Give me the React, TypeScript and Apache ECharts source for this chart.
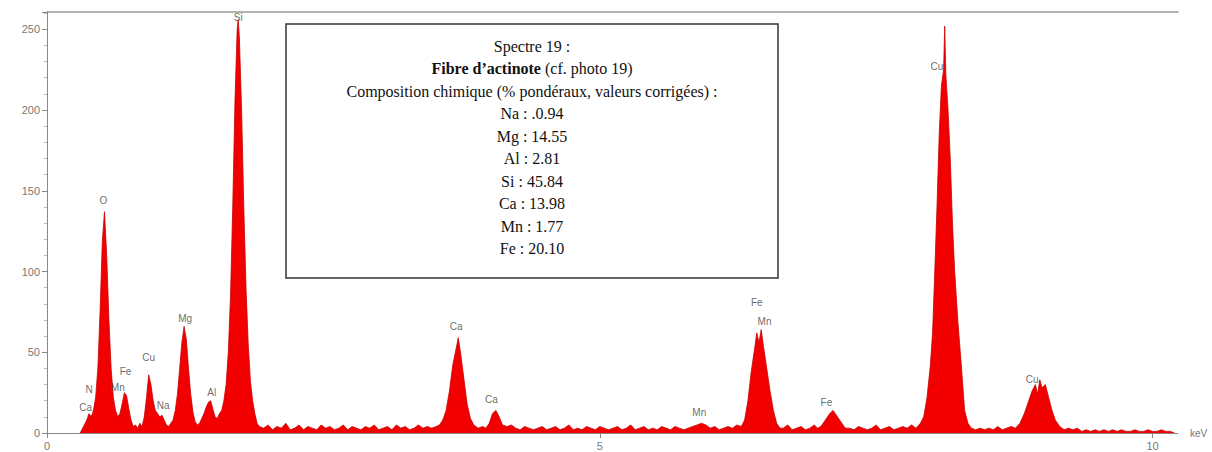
import React, { useEffect, useRef } from "react";
import * as echarts from "echarts";

// Spectrum [keV, counts], by region
const lowEnergy: number[][] = [
  [0.30, 0], [0.33, 4], [0.36, 8], [0.38, 12], [0.40, 10], [0.42, 14], [0.44, 22], [0.46, 40],
  [0.48, 75], [0.50, 118], [0.52, 137], [0.54, 110], [0.56, 70], [0.58, 40], [0.60, 22], [0.62, 14],
  [0.64, 10], [0.66, 12], [0.68, 18], [0.70, 25], [0.72, 23], [0.74, 15], [0.76, 8], [0.78, 4],
  [0.80, 5], [0.82, 3], [0.84, 6], [0.86, 4], [0.88, 10], [0.90, 22], [0.92, 36], [0.94, 30],
  [0.96, 20], [0.98, 14], [1.00, 12], [1.02, 10], [1.04, 11], [1.06, 8], [1.08, 5], [1.10, 4],
  [1.12, 6], [1.14, 8], [1.16, 14], [1.18, 24], [1.20, 40], [1.22, 56], [1.24, 66], [1.26, 58],
  [1.28, 40], [1.30, 24], [1.32, 13], [1.34, 7], [1.36, 5], [1.38, 6], [1.40, 9], [1.42, 12],
  [1.44, 16], [1.46, 19], [1.48, 20], [1.50, 15], [1.52, 10], [1.54, 9], [1.56, 12], [1.58, 14],
  [1.60, 20], [1.62, 30], [1.64, 50], [1.66, 85], [1.68, 140], [1.70, 205], [1.72, 250], [1.73, 256],
  [1.74, 245], [1.76, 200], [1.78, 140], [1.80, 90], [1.82, 55], [1.84, 32], [1.86, 20], [1.88, 12],
  [1.90, 6],
];
const midBaseline: number[][] = [
  [1.92, 4], [1.96, 3], [2.00, 5], [2.04, 2], [2.08, 4], [2.12, 3], [2.16, 6], [2.20, 2],
  [2.24, 3], [2.28, 5], [2.32, 2], [2.36, 4], [2.40, 3], [2.44, 2], [2.48, 5], [2.52, 3],
  [2.56, 4], [2.60, 2], [2.64, 3], [2.68, 5], [2.72, 2], [2.76, 4], [2.80, 3], [2.84, 2],
  [2.88, 4], [2.92, 3], [2.96, 5], [3.00, 2], [3.04, 3], [3.08, 4], [3.12, 2], [3.16, 5],
  [3.20, 3], [3.24, 4], [3.28, 2], [3.32, 3], [3.36, 5], [3.40, 3], [3.44, 4], [3.48, 3],
];
const caRegion: number[][] = [
  [3.52, 4], [3.55, 5], [3.58, 8], [3.61, 14], [3.64, 26], [3.67, 42], [3.70, 52], [3.72, 59],
  [3.74, 50], [3.77, 34], [3.80, 18], [3.83, 9], [3.86, 5], [3.90, 3], [3.94, 4], [3.97, 3],
  [4.00, 6], [4.03, 12], [4.06, 14], [4.09, 10], [4.12, 5],
];
const baseline2: number[][] = [
  [4.16, 4], [4.20, 5], [4.24, 3], [4.28, 2], [4.32, 4], [4.36, 3], [4.40, 2], [4.44, 3],
  [4.48, 4], [4.52, 2], [4.56, 3], [4.60, 4], [4.64, 2], [4.68, 3], [4.72, 5], [4.76, 2],
  [4.80, 3], [4.84, 2], [4.88, 4], [4.92, 3], [4.96, 2], [5.00, 4], [5.04, 3], [5.08, 2],
  [5.12, 3], [5.16, 4], [5.20, 2], [5.24, 3], [5.28, 5], [5.32, 2], [5.36, 3], [5.40, 4],
  [5.44, 2], [5.48, 3], [5.52, 2], [5.56, 4], [5.60, 3], [5.64, 2], [5.68, 4], [5.72, 3],
  [5.76, 2], [5.80, 3], [5.84, 4], [5.88, 5], [5.92, 6], [5.96, 5], [6.00, 3], [6.04, 4],
  [6.08, 2], [6.12, 3], [6.16, 4], [6.20, 3], [6.24, 5],
];
const feRegion: number[][] = [
  [6.28, 4], [6.31, 8], [6.34, 20], [6.37, 38], [6.40, 52], [6.42, 62], [6.44, 56], [6.46, 64],
  [6.48, 54], [6.51, 40], [6.54, 26], [6.57, 14], [6.60, 6], [6.63, 3], [6.66, 3], [6.70, 5],
  [6.74, 2], [6.78, 3], [6.82, 4], [6.86, 2], [6.90, 3], [6.94, 5], [6.97, 3], [7.00, 4],
  [7.04, 8], [7.08, 12], [7.11, 14], [7.14, 11], [7.18, 7], [7.22, 3], [7.26, 3], [7.30, 2],
  [7.34, 4], [7.38, 3], [7.42, 2], [7.46, 3], [7.50, 5], [7.54, 2], [7.58, 3], [7.62, 4],
  [7.66, 2], [7.70, 3], [7.74, 4], [7.78, 3], [7.82, 5],
];
const cuRegion: number[][] = [
  [7.86, 3], [7.90, 6], [7.93, 10], [7.96, 22], [7.99, 42], [8.01, 62], [8.03, 100], [8.05, 140],
  [8.07, 185], [8.09, 215], [8.11, 225], [8.12, 252], [8.13, 222], [8.15, 200], [8.17, 170], [8.19, 130],
  [8.21, 100], [8.24, 68], [8.27, 42], [8.30, 14], [8.33, 6], [8.36, 3], [8.40, 2], [8.44, 3],
  [8.48, 2], [8.52, 3], [8.56, 2], [8.60, 4], [8.64, 2], [8.68, 3], [8.72, 4], [8.76, 3],
  [8.80, 6], [8.84, 12], [8.88, 20], [8.91, 26], [8.94, 30], [8.96, 24], [8.98, 33], [9.00, 28],
  [9.03, 30], [9.06, 22], [9.09, 14], [9.12, 8], [9.16, 4], [9.20, 2],
];
const tail: number[][] = [
  [9.24, 3], [9.28, 2], [9.32, 3], [9.36, 1], [9.40, 2], [9.44, 1], [9.48, 2], [9.52, 1],
  [9.56, 2], [9.60, 1], [9.64, 2], [9.68, 1], [9.72, 2], [9.76, 1], [9.80, 1], [9.84, 2],
  [9.88, 1], [9.92, 1], [9.96, 2], [10.00, 1], [10.04, 1], [10.08, 2], [10.12, 1], [10.16, 1],
  [10.20, 0],
];

// Peak annotations: name, keV, counts
const peakNames = ["Si", "Cu", "O", "Mg", "Ca", "Ca", "Mn", "Fe", "Mn", "Fe", "Cu", "Fe", "Mn", "Cu", "N", "Ca", "Na", "Al"];
const peakKeV = [1.73, 8.05, 0.51, 1.25, 3.70, 4.02, 5.90, 6.42, 6.49, 7.05, 8.91, 0.71, 0.64, 0.92, 0.38, 0.35, 1.05, 1.49];
const peakCounts = [257, 227, 144, 71, 66, 20.5, 12.4, 81, 69, 19, 33, 38, 28, 47, 27, 16, 17, 25];

const yTicks = [0, 50, 100, 150, 200, 250];
const xTicks = [0, 5, 10];

const boxLines = [
  "Spectre 19 :",
  "{b|Fibre d’actinote} (cf. photo 19)",
  "Composition chimique (% pondéraux, valeurs corrigées) :",
  "Na : .0.94",
  "Mg : 14.55",
  "Al : 2.81",
  "Si : 45.84",
  "Ca : 13.98",
  "Mn : 1.77",
  "Fe : 20.10",
];

export default function App() {
  const ref = useRef<HTMLDivElement>(null);
  useEffect(() => {
    if (!ref.current) return;
    const chart = echarts.init(ref.current, undefined, { renderer: "svg" });
    const spectrum = [...lowEnergy, ...midBaseline, ...caRegion, ...baseline2, ...feRegion, ...cuRegion, ...tail];
    const labels = peakNames.map((n, i) => ({ name: n, value: [peakKeV[i], peakCounts[i]] }));
    const lineY0 = 46;
    const lh = 22.55;
    const serif = "'Liberation Serif', 'Times New Roman', serif";
    const graphicTexts = boxLines.map((t, i) => ({
      type: "text",
      x: 532,
      y: lineY0 + i * lh,
      z: 101,
      style: {
        text: t,
        fill: "#111",
        font: `16px ${serif}`,
        fontFamily: serif,
        fontSize: 16,
        align: "center",
        verticalAlign: "middle",
        rich: { b: { fontWeight: "bold", fontSize: 16, fontFamily: serif, fill: "#111" } },
      },
    }));
    chart.setOption({
      animation: false,
      backgroundColor: "#fff",
      grid: { left: 47, right: 34, top: 12, bottom: 19, containLabel: false },
      xAxis: [
        {
          type: "value",
          min: 0,
          max: 10.23,
          interval: 5,
          name: "keV",
          nameLocation: "end",
          nameGap: 12,
          nameTextStyle: { color: "#777", fontSize: 10, fontFamily: "'Liberation Sans', Arial, sans-serif", padding: [0, 0, 14, 0] },
          axisLine: { show: true, lineStyle: { color: "#888", width: 1 } },
          axisTick: { show: true, length: 5, lineStyle: { color: "#888" } },
          axisLabel: {
            color: "#777",
            fontSize: 11,
            margin: 7,
            fontFamily: "'Liberation Sans', Arial, sans-serif",
            showMaxLabel: false,
            formatter: (v: number) => (xTicks.includes(v) ? String(v) : ""),
          },
          splitLine: { show: false },
        },
        {
          type: "value",
          position: "top",
          min: 0,
          max: 10.23,
          axisLine: { show: true, onZero: false, lineStyle: { color: "#999", width: 1.5 } },
          axisTick: { show: false },
          axisLabel: { show: false },
          splitLine: { show: false },
        },
      ],
      yAxis: {
        type: "value",
        min: 0,
        max: 260.7,
        interval: 50,
        axisLine: { show: true, lineStyle: { color: "#888", width: 1 } },
        axisTick: { show: true, length: 5, lineStyle: { color: "#888" } },
        minorTick: { show: true, splitNumber: 5, length: 3, lineStyle: { color: "#bbb" } },
        axisLabel: {
          color: "#777",
          fontSize: 11,
          margin: 7,
          fontFamily: "'Liberation Sans', Arial, sans-serif",
          showMaxLabel: false,
          formatter: (v: number) => (yTicks.includes(v) ? String(v) : ""),
        },
        splitLine: { show: false },
      },
      series: [
        {
          type: "line",
          data: spectrum,
          symbol: "none",
          smooth: false,
          lineStyle: { color: "#c80000", width: 0.8 },
          areaStyle: { color: "#f20000", opacity: 1 },
          z: 2,
        },
        {
          type: "scatter",
          data: labels,
          symbolSize: 0,
          label: {
            show: true,
            position: "inside",
            formatter: (p: any) => p.name,
            color: "#444",
            fontSize: 10,
            fontFamily: "'Liberation Sans', Arial, sans-serif",
          },
          z: 5,
        },
      ],
      graphic: [
        {
          type: "rect",
          shape: { x: 286, y: 24, width: 492, height: 254 },
          z: 100,
          style: { fill: "#fff", stroke: "#333", lineWidth: 1.5 },
        },
        ...graphicTexts,
      ],
    });
    return () => chart.dispose();
  }, []);
  return <div ref={ref} style={{ position: "fixed", left: 0, top: 0, width: 1212, height: 452 }} />;
}
